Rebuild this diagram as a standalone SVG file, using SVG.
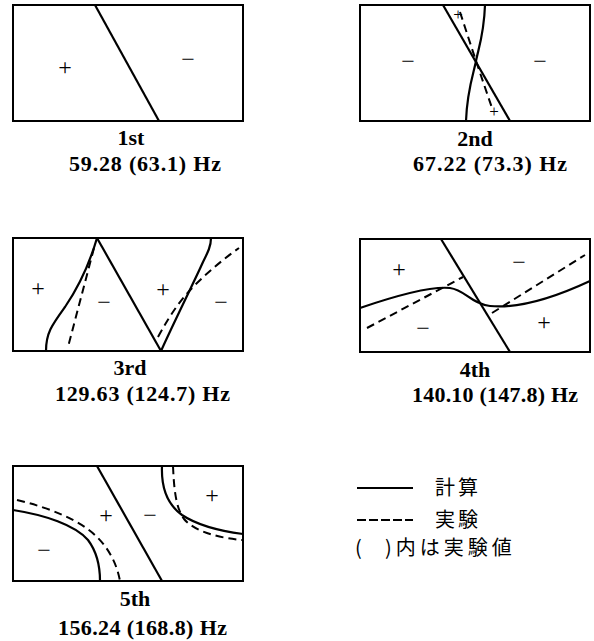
<svg xmlns="http://www.w3.org/2000/svg" width="594" height="641" viewBox="0 0 594 641">
<style>
.box{fill:none;stroke:#000;stroke-width:2}
.s{fill:none;stroke:#000;stroke-width:2.2}
.d{fill:none;stroke:#000;stroke-width:2;stroke-dasharray:8 5}
text{font-family:"Liberation Serif","Times New Roman",serif;fill:#000}
.sg{font-size:24px;text-anchor:middle}
.sm{font-size:17px;text-anchor:middle}
.ord{font-size:22px;font-weight:bold;text-anchor:middle}
.fq{font-size:22px;font-weight:bold}
.jp{font-family:"Noto Sans CJK JP","Noto Sans CJK SC",sans-serif;font-size:20px}
</style>
<rect width="594" height="641" fill="#fff"/>
<g id="mode1">
<rect class="box" x="13" y="5" width="230" height="116"/>
<line class="s" x1="95" y1="5" x2="159" y2="121"/>
<text class="sg" x="65" y="75">+</text>
<text class="sg" x="188" y="67">−</text>
<text class="ord" x="131" y="145">1st</text>
<text class="fq" x="69" y="171" textLength="152" lengthAdjust="spacing">59.28 (63.1) Hz</text>
</g>
<g id="mode2">
<rect class="box" x="360" y="5" width="230" height="116"/>
<line class="s" x1="443" y1="5" x2="510" y2="121"/>
<path class="s" d="M485,5 C484,35 478,50 476,61 C474,72 467,90 466,121"/>
<path class="d" d="M460,12 L476,61 L492,108"/>
<text class="sm" x="458" y="20">+</text>
<text class="sm" x="494" y="117">+</text>
<text class="sg" x="408" y="69">−</text>
<text class="sg" x="540" y="69">−</text>
<text class="ord" x="475" y="146">2nd</text>
<text class="fq" x="413" y="171" textLength="154" lengthAdjust="spacing">67.22 (73.3) Hz</text>
</g>
<g id="mode3">
<rect class="box" x="13" y="238" width="230" height="113"/>
<polyline class="s" points="97,238 161,351"/>
<path class="s" d="M161,351 C175,320 195,280 203,262 C208,252 211,246 211,238"/>
<path class="s" d="M97,238 C90,262 80,285 65,307 C52,325 46,333 46,351"/>
<path class="d" d="M94,248 L68,347"/>
<path class="d" d="M158,337 C170,315 180,300 195,285 C210,270 225,258 239,248"/>
<text class="sg" x="38" y="296">+</text>
<text class="sg" x="104" y="310">−</text>
<text class="sg" x="163" y="297">+</text>
<text class="sg" x="221" y="310">−</text>
<text class="ord" x="130" y="375">3rd</text>
<text class="fq" x="55" y="401" textLength="175" lengthAdjust="spacing">129.63 (124.7) Hz</text>
</g>
<g id="mode4">
<rect class="box" x="360" y="239" width="230" height="113"/>
<line class="s" x1="441" y1="239" x2="510" y2="352"/>
<path class="s" d="M360,308 C395,296 430,286 450,288 C465,290 472,304 490,306 C520,309 560,295 590,281"/>
<path class="d" d="M367,328 L463,277"/>
<path class="d" d="M492,313 L585,255"/>
<text class="sg" x="399" y="277">+</text>
<text class="sg" x="519" y="270">−</text>
<text class="sg" x="423" y="336">−</text>
<text class="sg" x="544" y="330">+</text>
<text class="ord" x="475" y="377">4th</text>
<text class="fq" x="412" y="402" textLength="166" lengthAdjust="spacing">140.10 (147.8) Hz</text>
</g>
<g id="mode5">
<rect class="box" x="13" y="466" width="230" height="115"/>
<line class="s" x1="97" y1="466" x2="162" y2="581"/>
<path class="s" d="M13,510 C45,515 75,525 88,540 C97,552 100,565 100,581"/>
<path class="d" d="M17,500 C50,508 80,520 97,537 C110,550 117,565 120,581"/>
<path class="s" d="M162,466 C161,490 168,505 182,515 C197,525 220,531 243,534"/>
<path class="d" d="M173,466 C174,490 176,508 184,519 C195,532 220,538 242,540"/>
<text class="sg" x="106" y="523">+</text>
<text class="sg" x="150" y="523">−</text>
<text class="sg" x="212" y="503">+</text>
<text class="sg" x="44" y="558">−</text>
<text class="ord" x="135" y="606">5th</text>
<text class="fq" x="58" y="635" textLength="169" lengthAdjust="spacing">156.24 (168.8) Hz</text>
</g>
<g id="legend">
<line class="s" x1="357" y1="488" x2="413" y2="488"/>
<line x1="357" y1="520" x2="413" y2="520" stroke="#000" stroke-width="2.2" stroke-dasharray="9 3"/>
<text class="jp" x="435" y="495" letter-spacing="3">計算</text>
<text class="jp" x="435" y="527" letter-spacing="3">実験</text>
<text class="jp" x="355" y="555"><tspan>(</tspan><tspan x="385" letter-spacing="4">)内は実験値</tspan></text>
</g>
</svg>
